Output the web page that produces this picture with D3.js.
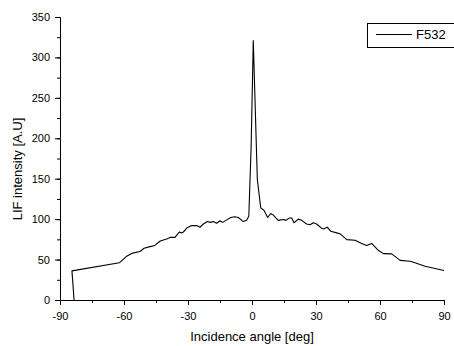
<!DOCTYPE html>
<html>
<head>
<meta charset="utf-8">
<script src="https://cdn.jsdelivr.net/npm/d3@7"></script>
<style>
  body { margin: 0; background: #ffffff; }
  text { font-family: "Liberation Sans", Arial, sans-serif; fill: #000000; }
</style>
</head>
<body>
<svg id="canvas"></svg>
<script>

// Incidence angle [deg].
var angles = [-83.4, -84.4, -62.2, -58.8, -55.9, -52.5, -50.6, -47.8, -45.9, -43, -40,
  -38.1, -36.1, -34.1, -33, -32.2, -30.6, -28.3, -25.9, -24.4, -22.8, -20.9, -19.4,
  -18.1, -16.6, -15, -13.8, -12.2, -10, -8, -6.4, -4.1, -2.5, -1.5, -0.4, 0.6, 2.5,
  4.1, 5.6, 7.35, 8.75, 10, 12.3, 14.7, 15.9, 17.5, 18.6, 19.7, 21.7, 23.3, 25.6,
  27.2, 28.75, 30.3, 32.7, 33.75, 35.3, 36.9, 39.7, 41.2, 44.4, 48.3, 51.4, 53.75,
  56.1, 59.2, 61.6, 65.5, 69.4, 74.1, 76.4, 81.1, 85.8, 90];

// LIF intensity [A.U] for series F532.
var intensity = [0, 36, 46, 54, 58, 60, 64, 66, 67, 73, 75.5,
  77.5, 77.5, 84, 83, 84, 89, 92, 92, 90, 94, 97, 96,
  97, 95, 98, 96, 98.5, 102, 103, 102, 97, 98.5, 103.5, 190, 321, 149,
  114, 111, 102, 107, 105, 98.5, 99.5, 98.5, 101.5, 101.5, 95.5, 100, 98.5, 94,
  93, 95.5, 94, 88.5, 88, 90, 85, 83, 82, 74.7, 73.8, 70, 67.3,
  70, 61.5, 57.4, 57, 49, 48, 46, 41.7, 39, 36.5];

// Tick values.
var xTicks = [-90, -60, -30, 0, 30, 60, 90];
var yTicks = [0, 50, 100, 150, 200, 250, 300, 350];
var xMinor = d3.range(-90, 91, 15);
var yMinor = d3.range(0, 351, 25);

// Series name.
var seriesName = 'F532';

// Canvas settings.
var canvas = {
  dim: { w: 454, h: 346 },
  plot: { left: 60, right: 444, top: 17, bottom: 300 }
};

// Plain hyphen for negative tick labels.
var plainFormat = function(d) { return String(d); };

// SVG canvas.
var svg = d3.select('#canvas')
            .attr('width', canvas.dim.w)
            .attr('height', canvas.dim.h);

// Scales.
var x = d3.scaleLinear()
          .domain([-90, 90])
          .range([canvas.plot.left, canvas.plot.right]);

var y = d3.scaleLinear()
          .domain([0, 350])
          .range([canvas.plot.bottom, canvas.plot.top]);

// Minor ticks (drawn first, under the major ones).
svg.append('g')
   .attr('transform', 'translate(0,' + canvas.plot.bottom + ')')
   .call(d3.axisBottom(x).tickValues(xMinor).tickSize(3).tickFormat('').tickSizeOuter(0));

svg.append('g')
   .attr('transform', 'translate(' + canvas.plot.left + ',0)')
   .call(d3.axisLeft(y).tickValues(yMinor).tickSize(3).tickFormat('').tickSizeOuter(0));

// X axis.
svg.append('g')
   .attr('transform', 'translate(0,' + canvas.plot.bottom + ')')
   .call(d3.axisBottom(x).tickValues(xTicks).tickFormat(plainFormat)
           .tickSize(5).tickPadding(7).tickSizeOuter(0));

// Y axis.
svg.append('g')
   .attr('transform', 'translate(' + canvas.plot.left + ',0)')
   .call(d3.axisLeft(y).tickValues(yTicks).tickFormat(plainFormat)
           .tickSize(5).tickPadding(5).tickSizeOuter(0));

svg.selectAll('.tick text')
   .style('font-family', '"Liberation Sans", Arial, sans-serif')
   .style('font-size', '11px');

svg.selectAll('.domain, .tick line')
   .attr('stroke', '#000000');

// Axis titles.
svg.append('text')
   .attr('x', (canvas.plot.left + canvas.plot.right) / 2)
   .attr('y', 341)
   .attr('text-anchor', 'middle')
   .style('font-size', '13px')
   .text('Incidence angle [deg]');

svg.append('text')
   .attr('transform', 'translate(22,169) rotate(-90)')
   .attr('text-anchor', 'middle')
   .style('font-size', '13px')
   .text('LIF intensity [A.U]');

// Line.
var line = d3.line()
             .x(function(d, i) { return x(angles[i]); })
             .y(function(d) { return y(d); });

svg.append('path')
   .datum(intensity)
   .attr('d', line)
   .attr('fill', 'none')
   .attr('stroke', '#000000')
   .attr('stroke-width', 1.1)
   .attr('stroke-linejoin', 'round');

// Legend.
var legend = svg.append('g');

legend.append('rect')
      .attr('x', 367.5)
      .attr('y', 23.5)
      .attr('width', 100)
      .attr('height', 24)
      .attr('fill', '#ffffff')
      .attr('stroke', '#000000');

legend.append('line')
      .attr('x1', 376)
      .attr('x2', 412)
      .attr('y1', 34.5)
      .attr('y2', 34.5)
      .attr('stroke', '#000000');

legend.append('text')
      .attr('x', 416)
      .attr('y', 39)
      .style('font-size', '13px')
      .text(seriesName);

</script>
</body>
</html>
